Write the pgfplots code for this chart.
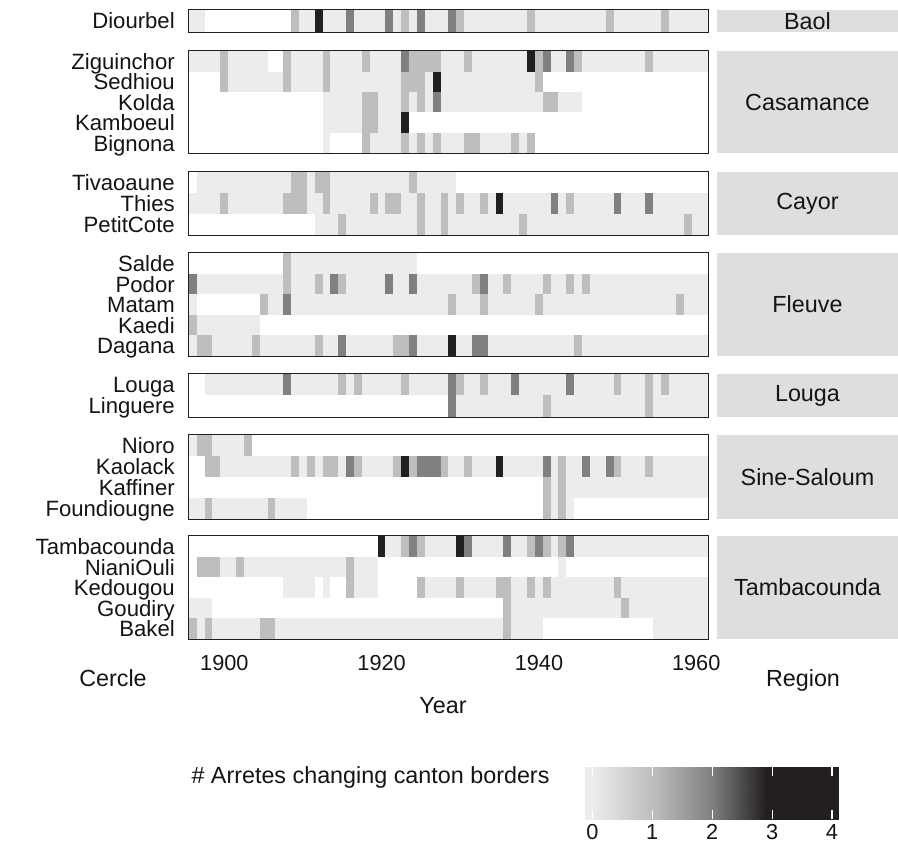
\documentclass[border=0pt]{standalone}
\usepackage{pgfplots}
\usepackage{pgfplotstable}
\usepackage{fontspec}
\setmainfont{Liberation Sans}
\pgfplotsset{compat=1.18}

\definecolor{stripgray}{RGB}{222,222,222}
\definecolor{frameline}{RGB}{35,31,32}
\definecolor{txt}{RGB}{20,20,20}

\newcommand\labfont{\fontsize{17.5}{20}\selectfont}
\newcommand\rowfont{\fontsize{16.6}{19}\selectfont}
\newcommand\tickfont{\fontsize{16.3}{19}\selectfont}

% one tile = one year of one cercle
\def\tilew{6.05pt}
\def\tileh{15.6pt}
\pgfdeclareplotmark{tile}{%
  \pgfpathrectangle{\pgfpoint{-0.5*\tilew}{-0.5*\tileh}}{\pgfpoint{\tilew}{\tileh}}%
  \pgfusepathqfill}

% number of arretes per cercle and year (-1 = no record)
\pgfplotstableread{
name 1896 1897 1898 1899 1900 1901 1902 1903 1904 1905 1906 1907 1908 1909 1910 1911 1912 1913 1914 1915 1916 1917 1918 1919 1920 1921 1922 1923 1924 1925 1926 1927 1928 1929 1930 1931 1932 1933 1934 1935 1936 1937 1938 1939 1940 1941 1942 1943 1944 1945 1946 1947 1948 1949 1950 1951 1952 1953 1954 1955 1956 1957 1958 1959 1960 1961
Diourbel 0 0 -1 -1 -1 -1 -1 -1 -1 -1 -1 -1 -1 1 0 0 3 0 0 0 2 0 0 0 0 2 0 1 0 2 0 0 0 2 1 0 0 0 0 0 0 0 0 1 0 0 0 0 0 0 0 0 0 1 0 0 0 0 0 0 1 0 0 0 0 0
Ziguinchor 0 0 0 0 1 0 0 0 0 0 -1 -1 1 0 0 0 0 1 0 0 0 0 1 0 0 0 0 2 1 1 1 1 0 0 0 1 0 0 0 0 0 0 0 3 1 2 0 0 2 1 0 0 0 0 0 0 0 0 1 0 0 0 0 0 0 0
Sedhiou -1 -1 -1 -1 1 0 0 0 0 0 0 0 1 0 0 0 0 1 0 0 0 0 0 0 0 0 0 1 1 1 0 3 0 0 0 0 0 0 0 0 0 0 0 0 1 -1 -1 -1 -1 -1 -1 -1 -1 -1 -1 -1 -1 -1 -1 -1 -1 -1 -1 -1 -1 -1
Kolda -1 -1 -1 -1 -1 -1 -1 -1 -1 -1 -1 -1 -1 -1 -1 -1 -1 0 0 0 0 0 1 1 0 0 0 1 0 1 0 2 0 0 0 0 0 0 0 0 0 0 0 0 0 1 1 0 0 0 -1 -1 -1 -1 -1 -1 -1 -1 -1 -1 -1 -1 -1 -1 -1 -1
Kamboeul -1 -1 -1 -1 -1 -1 -1 -1 -1 -1 -1 -1 -1 -1 -1 -1 -1 0 0 0 0 0 1 1 0 0 0 3 -1 -1 -1 -1 -1 -1 -1 -1 -1 -1 -1 -1 -1 -1 -1 -1 -1 -1 -1 -1 -1 -1 -1 -1 -1 -1 -1 -1 -1 -1 -1 -1 -1 -1 -1 -1 -1 -1
Bignona -1 -1 -1 -1 -1 -1 -1 -1 -1 -1 -1 -1 -1 -1 -1 -1 -1 0 -1 -1 -1 -1 1 0 0 0 0 1 0 1 0 1 0 0 0 1 1 0 0 0 0 1 0 1 -1 -1 -1 -1 -1 -1 -1 -1 -1 -1 -1 -1 -1 -1 -1 -1 -1 -1 -1 -1 -1 -1
Tivaoaune -1 0 0 0 0 0 0 0 0 0 0 0 0 1 1 0 1 1 0 0 0 0 0 0 0 0 0 0 1 0 0 0 0 0 -1 -1 -1 -1 -1 -1 -1 -1 -1 -1 -1 -1 -1 -1 -1 -1 -1 -1 -1 -1 -1 -1 -1 -1 -1 -1 -1 -1 -1 -1 -1 -1
Thies 0 0 0 0 1 0 0 0 0 0 0 0 1 1 1 0 0 1 0 0 0 0 0 1 0 1 1 0 0 1 0 0 1 0 1 0 0 1 0 3 0 0 0 0 0 0 2 0 1 0 0 0 0 0 2 0 0 0 2 0 0 0 0 0 0 0
PetitCote -1 -1 -1 -1 -1 -1 -1 -1 -1 -1 -1 -1 -1 -1 -1 -1 0 0 0 1 0 0 0 0 0 0 0 0 0 1 0 0 1 0 0 0 0 0 0 0 0 0 1 0 0 0 0 0 0 0 0 0 0 0 0 0 0 0 0 0 0 0 0 1 0 0
Salde -1 -1 -1 -1 -1 -1 -1 -1 -1 -1 -1 -1 1 0 0 0 0 0 0 0 0 0 0 0 0 0 0 0 0 -1 -1 -1 -1 -1 -1 -1 -1 -1 -1 -1 -1 -1 -1 -1 -1 -1 -1 -1 -1 -1 -1 -1 -1 -1 -1 -1 -1 -1 -1 -1 -1 -1 -1 -1 -1 -1
Podor 2 0 0 0 0 0 0 0 0 0 0 0 1 0 0 0 1 0 2 1 0 0 0 0 0 2 0 0 2 0 0 0 0 0 0 0 1 2 0 0 1 0 0 0 0 1 0 0 1 0 1 0 0 0 0 0 0 0 0 0 0 0 0 0 0 0
Matam 0 -1 -1 -1 -1 -1 -1 -1 -1 1 0 0 2 0 0 0 0 0 0 0 0 0 0 0 0 0 0 0 0 0 0 0 0 1 0 0 0 1 0 0 0 0 0 0 1 0 0 0 0 0 0 0 0 0 0 0 0 0 0 0 0 0 1 0 0 0
Kaedi 1 0 0 0 0 0 0 0 0 -1 -1 -1 -1 -1 -1 -1 -1 -1 -1 -1 -1 -1 -1 -1 -1 -1 -1 -1 -1 -1 -1 -1 -1 -1 -1 -1 -1 -1 -1 -1 -1 -1 -1 -1 -1 -1 -1 -1 -1 -1 -1 -1 -1 -1 -1 -1 -1 -1 -1 -1 -1 -1 -1 -1 -1 -1
Dagana 0 1 1 0 0 0 0 0 1 0 0 0 0 0 0 0 1 0 0 2 0 0 0 0 0 0 1 1 2 0 0 0 0 3 0 0 2 2 0 0 0 0 0 0 0 0 0 0 0 1 0 0 0 0 0 0 0 0 0 0 0 0 0 0 0 0
Louga -1 -1 0 0 0 0 0 0 0 0 0 0 2 0 0 0 0 0 0 1 0 1 0 0 0 0 0 1 0 0 0 0 0 2 1 0 0 1 0 0 0 2 0 0 0 0 0 0 2 0 0 0 0 0 1 0 0 0 1 0 1 0 0 0 0 0
Linguere -1 -1 -1 -1 -1 -1 -1 -1 -1 -1 -1 -1 -1 -1 -1 -1 -1 -1 -1 -1 -1 -1 -1 -1 -1 -1 -1 -1 -1 -1 -1 -1 -1 2 0 0 0 0 0 0 0 0 0 0 0 1 0 0 0 0 0 0 0 0 0 0 0 0 1 0 0 0 0 0 0 0
Nioro 0 1 1 0 0 0 0 1 -1 -1 -1 -1 -1 -1 -1 -1 -1 -1 -1 -1 -1 -1 -1 -1 -1 -1 -1 -1 -1 -1 -1 -1 -1 -1 -1 -1 -1 -1 -1 -1 -1 -1 -1 -1 -1 -1 -1 -1 -1 -1 -1 -1 -1 -1 -1 -1 -1 -1 -1 -1 -1 -1 -1 -1 -1 -1
Kaolack -1 -1 1 1 0 0 0 0 0 0 0 0 0 1 0 1 0 1 1 0 2 1 0 0 0 0 1 3 1 2 2 2 1 0 0 1 0 0 0 3 0 0 0 0 0 2 0 1 0 0 2 0 0 2 1 0 0 0 1 0 0 0 0 0 0 0
Kaffiner -1 -1 -1 -1 -1 -1 -1 -1 -1 -1 -1 -1 -1 -1 -1 -1 -1 -1 -1 -1 -1 -1 -1 -1 -1 -1 -1 -1 -1 -1 -1 -1 -1 -1 -1 -1 -1 -1 -1 -1 -1 -1 -1 -1 -1 1 0 1 0 0 0 0 0 0 0 0 0 0 0 0 0 0 0 0 0 0
Foundiougne 0 0 1 0 0 0 0 0 0 0 1 0 0 0 0 -1 -1 -1 -1 -1 -1 -1 -1 -1 -1 -1 -1 -1 -1 -1 -1 -1 -1 -1 -1 -1 -1 -1 -1 -1 -1 -1 -1 -1 -1 1 0 1 0 -1 -1 -1 -1 -1 -1 -1 -1 -1 -1 -1 -1 -1 -1 -1 -1 -1
Tambacounda -1 -1 -1 -1 -1 -1 -1 -1 -1 -1 -1 -1 -1 -1 -1 -1 -1 -1 -1 -1 -1 -1 -1 -1 3 0 0 1 2 1 0 0 0 0 3 2 0 0 0 0 2 0 0 1 2 1 0 1 2 0 0 0 0 0 0 0 0 0 0 0 0 0 0 0 0 0
NianiOuli -1 1 1 1 0 0 1 0 0 0 0 0 0 0 0 0 0 0 0 0 1 0 0 0 -1 -1 -1 -1 -1 -1 -1 -1 -1 -1 -1 -1 -1 -1 -1 -1 -1 -1 -1 -1 -1 -1 -1 0 -1 -1 -1 -1 -1 -1 -1 -1 -1 -1 -1 -1 -1 -1 -1 -1 -1 -1
Kedougou -1 -1 -1 -1 -1 -1 -1 -1 -1 -1 -1 -1 0 0 0 0 -1 0 -1 -1 1 0 0 0 -1 -1 -1 -1 -1 1 0 0 0 0 1 0 0 0 0 1 1 0 0 1 0 1 0 0 0 0 0 0 0 0 1 0 0 0 0 0 0 0 0 0 0 0
Goudiry 0 0 0 -1 -1 -1 -1 -1 -1 -1 -1 -1 -1 -1 -1 -1 -1 -1 -1 -1 -1 -1 -1 -1 -1 -1 -1 -1 -1 -1 -1 -1 -1 -1 -1 -1 -1 -1 -1 -1 1 0 0 0 0 0 0 0 0 0 0 0 0 0 0 1 0 0 0 0 0 0 0 0 0 0
Bakel 1 0 1 0 0 0 0 0 0 1 1 0 0 0 0 0 0 0 0 0 0 0 0 0 0 0 0 0 0 0 0 0 0 0 0 0 0 0 0 0 1 0 0 0 0 -1 -1 -1 -1 -1 -1 -1 -1 -1 -1 -1 -1 -1 -1 0 0 0 0 0 0 0
}\rawdata
\pgfplotstabletranspose[colnames from=name]{\bycercle}{\rawdata}

\pgfplotsset{
  panel/.style={
    anchor=north west, scale only axis, width=389.25pt,
    xmin=1895.5, xmax=1961.5, y dir=reverse,
    axis line style={draw=none}, xtick=\empty, major tick length=0pt,
    clip=false,
    colormap={tiles}{rgb255(0pt)=(255,255,255) rgb255(1pt)=(235,236,235)
      rgb255(2pt)=(189,190,191) rgb255(3pt)=(128,128,128) rgb255(4pt)=(35,31,32)},
    point meta min=-1, point meta max=3,
    yticklabel style={font=\rowfont, text=txt, anchor=base east, inner sep=0pt,
      xshift=-10.5pt, yshift=-5.95pt},
  },
  tiles/.style={scatter, only marks, mark=tile, point meta=explicit,
    scatter/use mapped color={draw=none, fill=mapped color}},
}

% frame and region strip of one panel
\newcommand\strip[1]{%
  \draw[frameline, line width=1.5pt] (rel axis cs:0,0) rectangle (rel axis cs:1,1);
  \fill[stripgray] (rel axis cs:1.0173,0) rectangle (rel axis cs:1.3661,1);
  \node[font=\labfont, text=txt] at (rel axis cs:1.1917,0.5) {#1};}

\begin{document}
\begin{tikzpicture}

% Baol
\def\tileh{16.4pt}
\begin{axis}[panel, at={(141.75pt,-7.5pt)}, height=16.2pt,
  ymin=-0.5, ymax=0.5, ytick={0}, yticklabels={Diourbel}]
\addplot[tiles] table[x=colnames, y expr=0, meta=Diourbel]{\bycercle};
\strip{Baol}
\end{axis}

% Casamance
\def\tileh{15.5pt}
\begin{axis}[panel, at={(141.75pt,-38.475pt)}, height=76.5pt,
  ymin=-0.5, ymax=4.5, ytick={0,...,4},
  yticklabels={Ziguinchor,Sedhiou,Kolda,Kamboeul,Bignona}]
\addplot[tiles] table[x=colnames, y expr=0, meta=Ziguinchor]{\bycercle};
\addplot[tiles] table[x=colnames, y expr=1, meta=Sedhiou]{\bycercle};
\addplot[tiles] table[x=colnames, y expr=2, meta=Kolda]{\bycercle};
\addplot[tiles] table[x=colnames, y expr=3, meta=Kamboeul]{\bycercle};
\addplot[tiles] table[x=colnames, y expr=4, meta=Bignona]{\bycercle};
\strip{Casamance}
\end{axis}

% Cayor
\def\tileh{15.85pt}
\begin{axis}[panel, at={(141.75pt,-129.3pt)}, height=46.95pt,
  ymin=-0.5, ymax=2.5, ytick={0,1,2},
  yticklabels={Tivaoaune,Thies,PetitCote}]
\addplot[tiles] table[x=colnames, y expr=0, meta=Tivaoaune]{\bycercle};
\addplot[tiles] table[x=colnames, y expr=1, meta=Thies]{\bycercle};
\addplot[tiles] table[x=colnames, y expr=2, meta=PetitCote]{\bycercle};
\strip{Cayor}
\end{axis}

% Fleuve
\def\tileh{15.6pt}
\begin{axis}[panel, at={(141.75pt,-189.975pt)}, height=77.025pt,
  ymin=-0.5, ymax=4.5, ytick={0,...,4},
  yticklabels={Salde,Podor,Matam,Kaedi,Dagana}]
\addplot[tiles] table[x=colnames, y expr=0, meta=Salde]{\bycercle};
\addplot[tiles] table[x=colnames, y expr=1, meta=Podor]{\bycercle};
\addplot[tiles] table[x=colnames, y expr=2, meta=Matam]{\bycercle};
\addplot[tiles] table[x=colnames, y expr=3, meta=Kaedi]{\bycercle};
\addplot[tiles] table[x=colnames, y expr=4, meta=Dagana]{\bycercle};
\strip{Fleuve}
\end{axis}

% Louga
\def\tileh{16.0pt}
\begin{axis}[panel, at={(141.75pt,-280.8pt)}, height=31.65pt,
  ymin=-0.5, ymax=1.5, ytick={0,1},
  yticklabels={Louga,Linguere}]
\addplot[tiles] table[x=colnames, y expr=0, meta=Louga]{\bycercle};
\addplot[tiles] table[x=colnames, y expr=1, meta=Linguere]{\bycercle};
\strip{Louga}
\end{axis}

% Sine-Saloum
\def\tileh{15.9pt}
\begin{axis}[panel, at={(141.75pt,-326.55pt)}, height=62.7pt,
  ymin=-0.5, ymax=3.5, ytick={0,...,3},
  yticklabels={Nioro,Kaolack,Kaffiner,Foundiougne}]
\addplot[tiles] table[x=colnames, y expr=0, meta=Nioro]{\bycercle};
\addplot[tiles] table[x=colnames, y expr=1, meta=Kaolack]{\bycercle};
\addplot[tiles] table[x=colnames, y expr=2, meta=Kaffiner]{\bycercle};
\addplot[tiles] table[x=colnames, y expr=3, meta=Foundiougne]{\bycercle};
\strip{Sine-Saloum}
\end{axis}

% Tambacounda
\def\tileh{15.6pt}
\begin{axis}[panel, at={(141.75pt,-402.225pt)}, height=77.025pt,
  ymin=-0.5, ymax=4.5, ytick={0,...,4},
  yticklabels={Tambacounda,NianiOuli,Kedougou,Goudiry,Bakel},
  xtick={1900,1920,1940,1960}, xticklabels={1900,1920,1940,1960},
  xticklabel style={font=\tickfont, text=txt, anchor=base, inner sep=0pt, yshift=-23.6pt}]
\addplot[tiles] table[x=colnames, y expr=0, meta=Tambacounda]{\bycercle};
\addplot[tiles] table[x=colnames, y expr=1, meta=NianiOuli]{\bycercle};
\addplot[tiles] table[x=colnames, y expr=2, meta=Kedougou]{\bycercle};
\addplot[tiles] table[x=colnames, y expr=3, meta=Goudiry]{\bycercle};
\addplot[tiles] table[x=colnames, y expr=4, meta=Bakel]{\bycercle};
\strip{Tambacounda}
\end{axis}

% colour bar
\begin{axis}[anchor=north west, at={(438.75pt,-575.25pt)}, scale only axis,
  width=190.5pt, height=39pt, xmin=-0.1218, xmax=4.1168, ymin=0, ymax=1,
  axis line style={draw=none}, ytick=\empty, axis on top,
  xtick={0,1,2,3,4}, xticklabels={0,1,2,3,4}, xtick pos=both,
  tick align=inside, major tick length=7pt,
  tick style={white, line width=0.8pt},
  xticklabel style={font=\tickfont, text=txt, anchor=base, inner sep=0pt, yshift=-15.4pt},
  colormap={legendmap}{rgb255(0pt)=(235,236,235) rgb255(10pt)=(189,190,191)
    rgb255(20pt)=(128,128,128) rgb255(29pt)=(35,31,32) rgb255(40pt)=(35,31,32)},
  point meta min=0, point meta max=4]
\addplot[surf, shader=interp, mesh/rows=2, point meta=explicit] coordinates {
  (-0.1218,0) [0] (0,0) [0] (1,0) [1] (2,0) [2] (2.9,0) [2.9] (4,0) [4] (4.1168,0) [4]
  (-0.1218,1) [0] (0,1) [0] (1,1) [1] (2,1) [2] (2.9,1) [2.9] (4,1) [4] (4.1168,1) [4]
};
\end{axis}

\begin{scope}[x=0.75pt, y=-0.75pt]
\path[use as bounding box] (0,0) rectangle (898,846);
\node[font=\labfont, text=txt, anchor=base] at (113,686) {Cercle};
\node[font=\labfont, text=txt, anchor=base] at (803,686) {Region};
\node[font=\labfont, text=txt, anchor=base] at (443,713) {Year};
\node[font=\labfont, text=txt, anchor=base] at (370.5,783) {\# Arretes changing canton borders};
\end{scope}
\end{tikzpicture}
\end{document}
